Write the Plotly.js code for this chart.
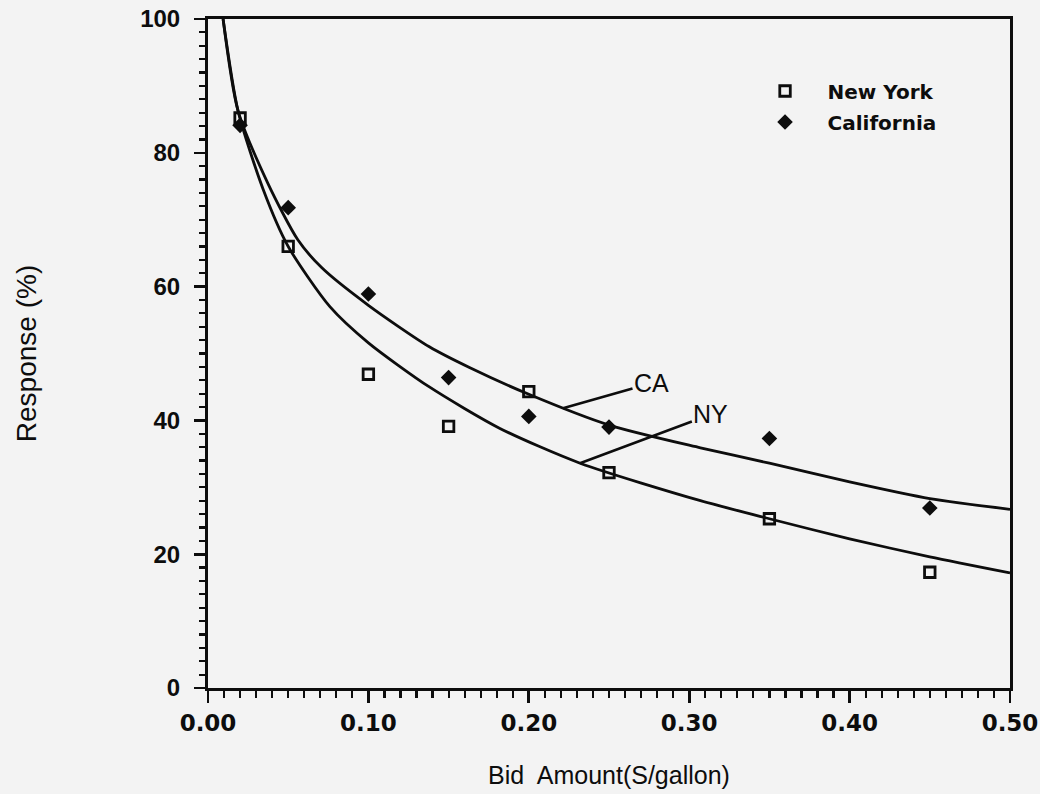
<!DOCTYPE html>
<html>
<head>
<meta charset="utf-8">
<script src="https://cdn.plot.ly/plotly-3.0.1.min.js"></script>
<style>
  html, body { margin: 0; padding: 0; background: #f3f3f3; }
  #chart { width: 1040px; height: 794px; }
</style>
</head>
<body>
<div id="chart"></div>
<script>
// Observed data points (bid amount $/gallon, response %)
const bidNY = [0.02, 0.05, 0.10, 0.15, 0.20, 0.25, 0.35, 0.45];
const respNY = [85.2, 66.0, 46.9, 39.1, 44.3, 32.2, 25.3, 17.3];
const bidCA = [0.02, 0.05, 0.10, 0.15, 0.20, 0.25, 0.35, 0.45];
const respCA = [84.1, 71.8, 58.9, 46.4, 40.6, 39.0, 37.3, 26.9];

// Fitted curves
const curveCAx = [0.0094, 0.0187, 0.0374, 0.056, 0.071, 0.100, 0.138, 0.163, 0.200, 0.250, 0.307, 0.350, 0.400, 0.450, 0.500];
const curveCAy = [100, 86.3, 75.4, 67.0, 62.8, 57.2, 51.0, 47.9, 43.9, 39.3, 35.9, 33.6, 30.8, 28.3, 26.7];
const curveNYx = [0.0094, 0.0187, 0.0343, 0.050, 0.076, 0.100, 0.138, 0.182, 0.232, 0.307, 0.350, 0.400, 0.450, 0.500];
const curveNYy = [100, 86.3, 74.6, 66.0, 57.0, 51.6, 45.0, 38.8, 33.6, 28.0, 25.3, 22.3, 19.6, 17.2];

// Curve labels
const labelText = ["CA", "NY"];
const labelX = [0.2765, 0.3135];
const labelY = [45.6, 40.9];
const anchorX = [0.2213, 0.2319];
const anchorY = [41.8, 33.6];

const xTickVals = [0, 0.1, 0.2, 0.3, 0.4, 0.5];
const xTickText = ["0.00", "0.10", "0.20", "0.30", "0.40", "0.50"];
const yTickVals = [0, 20, 40, 60, 80, 100];

const ARIAL = "Liberation Sans, Arial, Helvetica, sans-serif";
const WIDE = "DejaVu Sans, Verdana, sans-serif";
const INK = "#0d0d0d";

const traces = [
  { x: curveCAx, y: curveCAy, mode: "lines", line: { color: INK, width: 2.8, shape: "spline", smoothing: 0.7 }, showlegend: false, hoverinfo: "skip" },
  { x: curveNYx, y: curveNYy, mode: "lines", line: { color: INK, width: 2.8, shape: "spline", smoothing: 0.7 }, showlegend: false, hoverinfo: "skip" },
  { x: bidNY, y: respNY, name: "New York", mode: "markers", legendgroup: "ny",
    marker: { symbol: "square-open", size: 10.5, color: INK, line: { width: 2.8, color: INK } } },
  { x: bidCA, y: respCA, name: "California", mode: "markers", legendgroup: "ca",
    marker: { symbol: "diamond", size: 12, color: INK, line: { width: 0 } } }
];

const annotations = labelText.map((t, i) => ({
  x: anchorX[i], y: anchorY[i], xref: "x", yref: "y",
  ax: labelX[i], ay: labelY[i], axref: "x", ayref: "y",
  text: t, showarrow: true, arrowhead: 0, arrowwidth: 2.6, arrowcolor: INK,
  standoff: 0, startstandoff: 0,
  font: { family: ARIAL, size: 25, color: INK }
}));

const layout = {
  width: 1040, height: 794,
  paper_bgcolor: "#f3f3f3", plot_bgcolor: "#f3f3f3",
  margin: { l: 208, r: 30, t: 19, b: 106 },
  showlegend: true,
  legend: {
    x: 0.6665, y: 0.9215, xanchor: "left", yanchor: "top",
    bgcolor: "rgba(0,0,0,0)", borderwidth: 0, itemwidth: 75,
    font: { family: WIDE, size: 20, color: INK, weight: "bold" },
    tracegroupgap: 2
  },
  xaxis: {
    range: [0, 0.5], tickvals: xTickVals, ticktext: xTickText,
    showgrid: false, zeroline: false,
    showline: true, linecolor: INK, linewidth: 3, mirror: true,
    ticks: "outside", ticklen: 12, tickwidth: 2.6, tickcolor: INK,
    minor: { dtick: 0.01, ticks: "outside", ticklen: 7, tickwidth: 2.2, tickcolor: INK, showgrid: false },
    tickfont: { family: WIDE, size: 23, color: INK, weight: "bold" },
    title: { text: "\u00a0\u00a0\u00a0Bid  Amount(S/gallon)", font: { family: ARIAL, size: 25, color: INK }, standoff: 32 }
  },
  yaxis: {
    range: [0, 100], tickvals: yTickVals,
    showgrid: false, zeroline: false,
    showline: true, linecolor: INK, linewidth: 3, mirror: true,
    ticks: "outside", ticklen: 11, tickwidth: 2.6, tickcolor: INK,
    ticklabelstandoff: 9,
    minor: { dtick: 2, ticks: "outside", ticklen: 6, tickwidth: 2.2, tickcolor: INK, showgrid: false },
    tickfont: { family: ARIAL, size: 24, color: INK, weight: "bold" },
    title: { text: "Response (%)", font: { family: ARIAL, size: 28, color: INK }, standoff: 96 }
  },
  annotations: annotations
};

Plotly.newPlot("chart", traces, layout, { staticPlot: true, displayModeBar: false });
</script>
</body>
</html>
